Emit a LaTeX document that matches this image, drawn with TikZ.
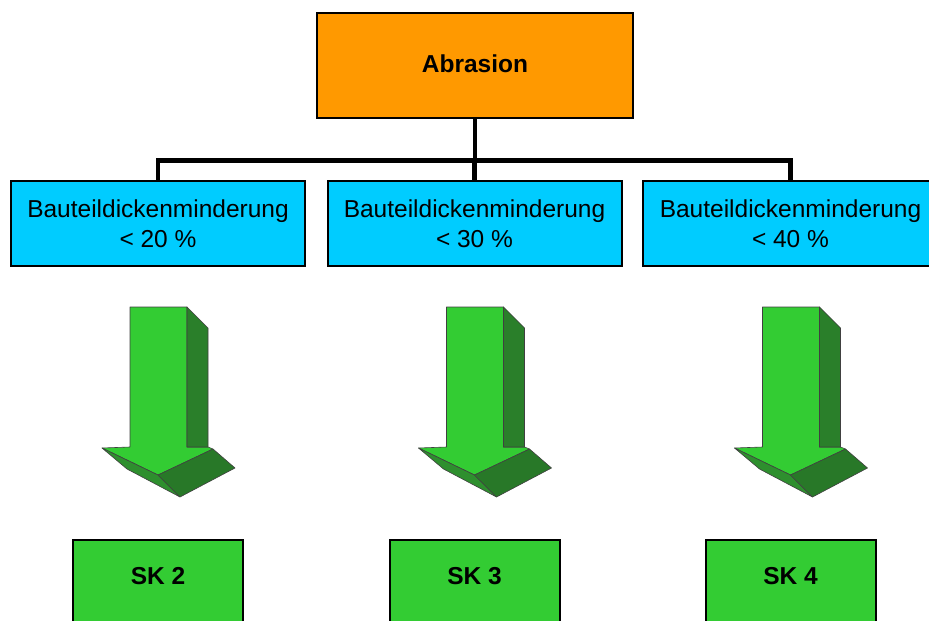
\documentclass[tikz,border=0pt]{standalone}
\usepackage{fontspec}
\setmainfont{Liberation Sans}
\definecolor{rootfill}{HTML}{FF9900}
\definecolor{levelfill}{HTML}{00CCFF}
\definecolor{skfill}{HTML}{33CC33}
\definecolor{arrowfront}{HTML}{33CC33}
\definecolor{arrowside}{HTML}{2A7F2A}
\definecolor{arrowlow}{HTML}{2E8F2E}
\definecolor{arrowdark}{HTML}{287828}
\begin{document}
\begin{tikzpicture}[x=1pt,y=-1pt,
  box/.style={draw=black, line width=2pt, inner sep=0pt, align=center},
  rootbox/.style={box, fill=rootfill, minimum width=316pt, minimum height=105pt},
  rootlabel/.style={inner sep=0pt, font=\fontsize{24.5}{29}\selectfont\bfseries},
  levelbox/.style={box, fill=levelfill, minimum width=294pt, minimum height=85pt,
    font=\fontsize{24.5}{30}\selectfont},
  skbox/.style={box, fill=skfill, minimum width=170pt, minimum height=130pt, anchor=north},
  sklabel/.style={inner sep=0pt, font=\fontsize{24.5}{29}\selectfont\bfseries},
  conn/.style={draw=black, line width=4.5pt},
  face/.style={draw=black!75, line width=0.6pt, line join=round}]
\useasboundingbox (0,0) rectangle (929,621);

% hierarchy boxes
\node[rootbox] (root) at (475,65.5) {};
\node[rootlabel] (rootname) at (475,64) {Abrasion};
\node[levelbox] (l1) at (158,223.5) {Bauteildickenminderung\\< 20 \%};
\node[levelbox] (l2) at (474.5,223.5) {Bauteildickenminderung\\< 30 \%};
\node[levelbox, minimum width=295pt] (l3) at (790.5,223.5) {Bauteildickenminderung\\< 40 \%};

% tree connectors
\coordinate (bar) at (474.5,160.5);
\draw[conn] (root.south) -- (root.south |- bar);
\draw[conn] (l1.north) |- (l3.north |- bar) -- (l3.north);
\draw[conn] (l2.north) -- (l2.north |- bar);

% 3D block arrows
\foreach \dx in {0,316.5,632.5}{
  \begin{scope}[xshift=\dx pt]
    \fill[arrowfront, face] (130,307) -- (187,307) -- (187,447) -- (208,447) -- (213,449)
      -- (158,475) -- (102,448) -- (130,447) -- cycle;
    \fill[arrowside, face] (187,307) -- (208,328) -- (208,447) -- (187,447) -- cycle;
    \fill[arrowlow, face] (102,448) -- (158,475) -- (180,497) -- (127,469) -- cycle;
    \fill[arrowdark, face] (158,475) -- (213,449) -- (235,468) -- (180,497) -- cycle;
  \end{scope}
}

% classes
\node[skbox] (s2) at (158,539) {};
\node[skbox] (s3) at (474.5,539) {};
\node[skbox] (s4) at (790.5,539) {};
\node[sklabel] (t2) at (158,576) {SK 2};
\node[sklabel] (t3) at (474.5,576) {SK 3};
\node[sklabel] (t4) at (790.5,576) {SK 4};
\end{tikzpicture}
\end{document}
